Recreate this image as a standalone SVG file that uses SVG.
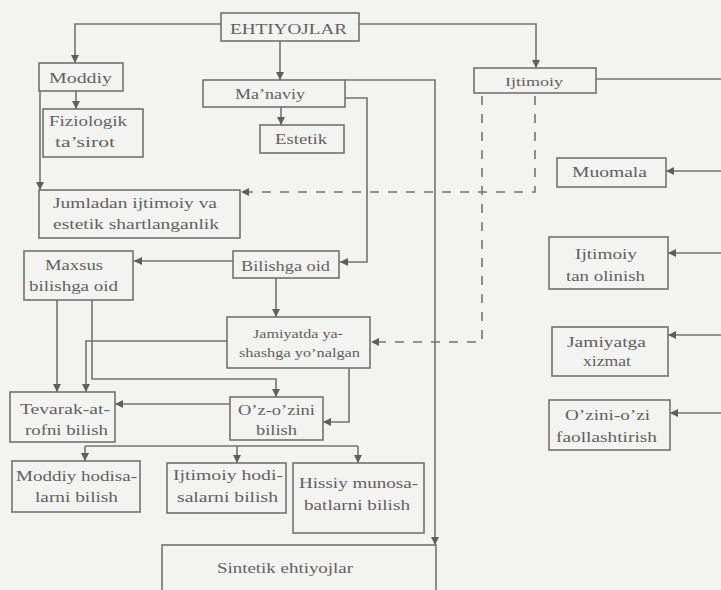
<svg xmlns="http://www.w3.org/2000/svg" width="721" height="590" viewBox="0 0 721 590">
<defs>
<marker id="ah" viewBox="0 0 10 10" refX="10" refY="5" markerWidth="9" markerHeight="8" markerUnits="userSpaceOnUse" orient="auto">
<path d="M0,0 L10,5 L0,10 z" fill="#5f5f5f"/>
</marker>
<style>
.box{fill:none;stroke:#727272;stroke-width:1.6}
.t{font-family:"Liberation Serif","Times New Roman",serif;font-size:15px;fill:#616161}
.s{font-size:13px}
.c{fill:none;stroke:#747474;stroke-width:1.6}
.a{marker-end:url(#ah)}
.d{stroke-dasharray:9,9}
</style>
</defs>
<rect x="0" y="0" width="721" height="590" fill="#f3f3f1"/>

<g id="connectors">
<path class="c a" d="M221,24 H75 V63"/>
<path class="c a" d="M359,24 H536 V68"/>
<path class="c a" d="M280,41 V80"/>
<path class="c a" d="M76,91 V109"/>
<path class="c a" d="M40,91 V190"/>
<path class="c a" d="M281,107 V125"/>
<path class="c a" d="M345,80 H435 V545"/>
<path class="c a" d="M345,98 H367 V262 H340"/>
<path class="c a" d="M233,261 H134"/>
<path class="c a" d="M276,278 V317"/>
<path class="c a" d="M57,300 V392"/>
<path class="c a" d="M92,300 V379 H276 V397"/>
<path class="c a" d="M227,341 H86 V392"/>
<path class="c a" d="M349,368 V422 H323"/>
<path class="c a" d="M230,404 H115"/>
<path class="c" d="M85,446 H358"/>
<path class="c a" d="M85,446 V461"/>
<path class="c a" d="M237,446 V463"/>
<path class="c a" d="M358,446 V463"/>
<path class="c" d="M596,79 H721"/>
<path class="c a" d="M721,171 H666"/>
<path class="c a" d="M721,253 H668"/>
<path class="c a" d="M721,335 H668"/>
<path class="c a" d="M721,413 H670"/>
<path class="c d a" d="M535,96 V192 H241"/>
<path class="c d a" d="M482,96 V342 H371"/>
</g>

<g id="n-ehtiyojlar"><rect class="box" x="221" y="13" width="138" height="28"/><text class="t" x="230" y="34" textLength="117" lengthAdjust="spacingAndGlyphs">EHTIYOJLAR</text></g>
<g id="n-moddiy"><rect class="box" x="39" y="63" width="84" height="28"/><text class="t" x="49" y="83" textLength="63" lengthAdjust="spacingAndGlyphs">Moddiy</text></g>
<g id="n-fiziologik"><rect class="box" x="43" y="109" width="100" height="48"/><text class="t" x="49" y="126" textLength="78" lengthAdjust="spacingAndGlyphs">Fiziologik</text><text class="t" x="55" y="147" textLength="60" lengthAdjust="spacingAndGlyphs">ta’sirot</text></g>
<g id="n-manaviy"><rect class="box" x="203" y="80" width="142" height="27"/><text class="t" x="235" y="99" textLength="70" lengthAdjust="spacingAndGlyphs">Ma’naviy</text></g>
<g id="n-estetik"><rect class="box" x="260" y="125" width="84" height="28"/><text class="t" x="275" y="144" textLength="52" lengthAdjust="spacingAndGlyphs">Estetik</text></g>
<g id="n-ijtimoiy"><rect class="box" x="474" y="68" width="122" height="25"/><text class="t s" x="505" y="86" textLength="58" lengthAdjust="spacingAndGlyphs">Ijtimoiy</text></g>
<g id="n-muomala"><rect class="box" x="557" y="158" width="109" height="29"/><text class="t" x="572" y="177" textLength="75" lengthAdjust="spacingAndGlyphs">Muomala</text></g>
<g id="n-jumladan"><rect class="box" x="39" y="190" width="201" height="48"/><text class="t" x="53" y="208" textLength="164" lengthAdjust="spacingAndGlyphs">Jumladan ijtimoiy va</text><text class="t" x="53" y="229" textLength="166" lengthAdjust="spacingAndGlyphs">estetik shartlanganlik</text></g>
<g id="n-maxsus"><rect class="box" x="24" y="251" width="109" height="49"/><text class="t" x="45" y="270" textLength="58" lengthAdjust="spacingAndGlyphs">Maxsus</text><text class="t" x="29" y="291" textLength="89" lengthAdjust="spacingAndGlyphs">bilishga oid</text></g>
<g id="n-bilishga"><rect class="box" x="233" y="251" width="106" height="27"/><text class="t" x="241" y="271" textLength="89" lengthAdjust="spacingAndGlyphs">Bilishga oid</text></g>
<g id="n-jamiyatda"><rect class="box" x="227" y="317" width="143" height="51"/><text class="t s" x="253" y="338" textLength="90" lengthAdjust="spacingAndGlyphs">Jamiyatda ya-</text><text class="t s" x="239" y="357" textLength="121" lengthAdjust="spacingAndGlyphs">shashga yo’nalgan</text></g>
<g id="n-tevarak"><rect class="box" x="10" y="392" width="105" height="50"/><text class="t" x="20" y="414" textLength="90" lengthAdjust="spacingAndGlyphs">Tevarak-at-</text><text class="t" x="25" y="435" textLength="83" lengthAdjust="spacingAndGlyphs">rofni bilish</text></g>
<g id="n-ozozini"><rect class="box" x="230" y="397" width="93" height="43"/><text class="t" x="238" y="415" textLength="77" lengthAdjust="spacingAndGlyphs">O’z-o’zini</text><text class="t" x="256" y="435" textLength="41" lengthAdjust="spacingAndGlyphs">bilish</text></g>
<g id="n-moddiyhod"><rect class="box" x="12" y="461" width="128" height="51"/><text class="t" x="16" y="481" textLength="121" lengthAdjust="spacingAndGlyphs">Moddiy hodisa-</text><text class="t" x="35" y="502" textLength="83" lengthAdjust="spacingAndGlyphs">larni bilish</text></g>
<g id="n-ijtimoiyhod"><rect class="box" x="167" y="463" width="119" height="50"/><text class="t" x="173" y="480" textLength="110" lengthAdjust="spacingAndGlyphs">Ijtimoiy hodi-</text><text class="t" x="177" y="502" textLength="101" lengthAdjust="spacingAndGlyphs">salarni bilish</text></g>
<g id="n-hissiy"><rect class="box" x="293" y="463" width="131" height="70"/><text class="t" x="299" y="488" textLength="119" lengthAdjust="spacingAndGlyphs">Hissiy munosa-</text><text class="t" x="304" y="510" textLength="106" lengthAdjust="spacingAndGlyphs">batlarni bilish</text></g>
<g id="n-sintetik"><rect class="box" x="162" y="545" width="274" height="60"/><text class="t" x="217" y="573" textLength="136" lengthAdjust="spacingAndGlyphs">Sintetik ehtiyojlar</text></g>
<g id="n-tanolinish"><rect class="box" x="549" y="237" width="119" height="52"/><text class="t" x="575" y="259" textLength="62" lengthAdjust="spacingAndGlyphs">Ijtimoiy</text><text class="t" x="566" y="281" textLength="79" lengthAdjust="spacingAndGlyphs">tan olinish</text></g>
<g id="n-xizmat"><rect class="box" x="552" y="327" width="116" height="49"/><text class="t" x="567" y="347" textLength="79" lengthAdjust="spacingAndGlyphs">Jamiyatga</text><text class="t" x="583" y="366" textLength="48" lengthAdjust="spacingAndGlyphs">xizmat</text></g>
<g id="n-faol"><rect class="box" x="549" y="400" width="121" height="50"/><text class="t" x="565" y="420" textLength="85" lengthAdjust="spacingAndGlyphs">O’zini-o’zi</text><text class="t" x="556" y="442" textLength="101" lengthAdjust="spacingAndGlyphs">faollashtirish</text></g>
</svg>
